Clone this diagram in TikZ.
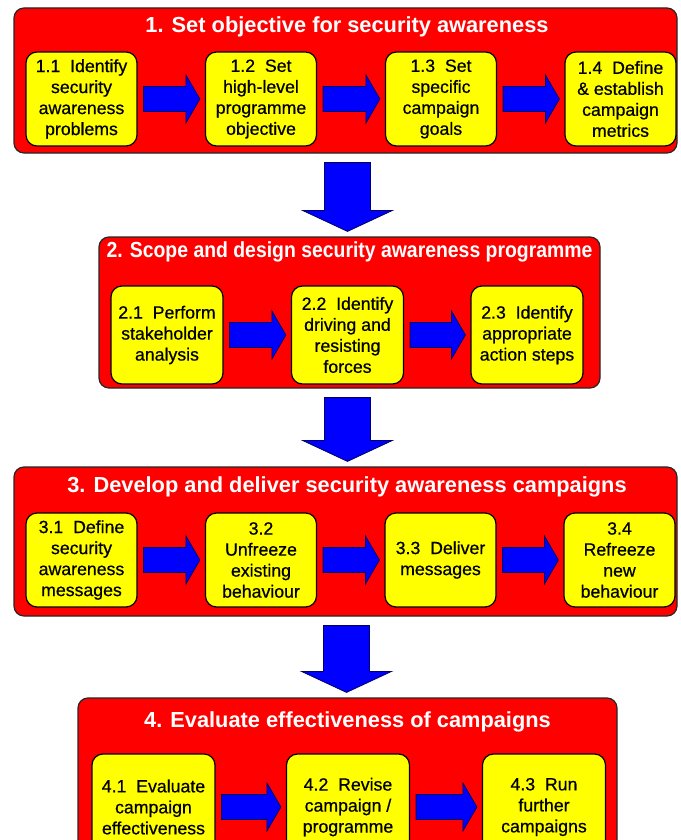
\documentclass[tikz,border=0pt]{standalone}
\usepackage{fontspec}
\setmainfont{Liberation Sans}
\newfontfamily\stepfont[FakeBold=0.6]{Liberation Sans}
\usepackage{xcolor}
\definecolor{stageColor}{HTML}{FF0000}
\definecolor{stepColor}{HTML}{FFFF00}
\definecolor{flowColor}{HTML}{0000FF}
\usepackage{tikz}
\usetikzlibrary{calc, fit}

\tikzset{
  stage/.style={draw=black!85, fill=stageColor, rounded corners=10pt, line width=1.2pt, inner sep=0pt},
  stagetitle/.style={text=white, font=\fontsize{21.8}{26}\selectfont\bfseries},
  stepbox/.style={draw=black, fill=stepColor, rounded corners=11pt, line width=1.2pt,
    align=center, inner sep=0pt, minimum width=111pt, minimum height=94pt,
    font=\stepfont\fontsize{17.7}{21}\selectfont},
  flowarrow/.style={draw=black!60!blue, fill=flowColor, line width=0.8pt, line join=miter}
}

\newcommand{\sideflow}[2]{%
  \draw[flowarrow] ($(#1.east)+(6,-12.5)$) -- ($(#2.west)+(-19,-12.5)$)
    -- ($(#2.west)+(-19,-24)$) -- ($(#2.west)+(-5,0)$) -- ($(#2.west)+(-19,24)$)
    -- ($(#2.west)+(-19,12.5)$) -- ($(#1.east)+(6,12.5)$) -- cycle;}

\newcommand{\stageflow}[2]{%
  \coordinate (#1mid) at ($(#1.south)!0.5!(#2.north)$);
  \draw[flowarrow] ($(#1mid |- #1.south)+(-23,9)$) -- ($(#1mid |- #2.north)+(-23,-26)$)
    -- ($(#1mid |- #2.north)+(-45,-26)$) -- ($(#1mid |- #2.north)+(0,-5)$)
    -- ($(#1mid |- #2.north)+(45,-26)$) -- ($(#1mid |- #2.north)+(23,-26)$)
    -- ($(#1mid |- #1.south)+(23,9)$) -- cycle;}

\begin{document}
\begin{tikzpicture}[x=1pt, y=-1pt]
  \clip (0,0) rectangle (680,840);

  % stages
  \node[stage, fit={(14,8) (677,153)}] (s1) {};
  \node[stage, fit={(99,237) (600,388)}] (s2) {};
  \node[stage, fit={(14,467) (677,616)}] (s3) {};
  \node[stage, fit={(78,698) (617,875)}] (s4) {};

  \node[stagetitle] (t1) at (347,27) {1. Set objective for security awareness};
  \node[stagetitle] (t2) at (349.5,252) {\scalebox{0.89}[1]{2. Scope and design security awareness programme}};
  \node[stagetitle] (t3) at (347,487) {3. Develop and deliver security awareness campaigns};
  \node[stagetitle] (t4) at (347.5,722) {4. Evaluate effectiveness of campaigns};

  % steps
  \foreach \n/\cx/\descr in {1/81.5/{1.1~ Identify\\security\\awareness\\problems},
    2/261/{1.2~ Set\\high-level\\programme\\objective},
    3/441/{1.3~ Set\\specific\\campaign\\goals},
    4/620.5/{1.4~ Define\\\& establish\\campaign\\metrics}}
  \node[stepbox] (b1\n) at (\cx,99) {\descr};

  \foreach \n/\cx/\descr in {1/167/{2.1~ Perform\\stakeholder\\analysis},
    2/347.5/{2.2~ Identify\\driving and\\resisting\\forces},
    3/527/{2.3~ Identify\\appropriate\\action steps}}
  \node[stepbox, minimum width=112pt, minimum height=98pt] (b2\n) at (\cx,335) {\descr};

  \foreach \n/\cx/\descr in {1/81.5/{3.1~ Define\\security\\awareness\\messages},
    2/261/{3.2\\Unfreeze\\existing\\behaviour},
    3/440.5/{3.3~ Deliver\\messages},
    4/619.5/{3.4\\Refreeze\\new\\behaviour}}
  \node[stepbox] (b3\n) at (\cx,560) {\descr};

  \foreach \n/\cx/\descr in {1/153.5/{4.1~ Evaluate\\campaign\\effectiveness},
    2/348/{4.2~ Revise\\campaign /\\programme},
    3/544/{4.3~ Run\\further\\campaigns}}
  \node[stepbox, minimum width=123pt, minimum height=106pt] (b4\n) at (\cx,807) {\descr};

  % flows
  \foreach \a/\b in {b11/b12, b12/b13, b13/b14, b21/b22, b22/b23,
    b31/b32, b32/b33, b33/b34, b41/b42, b42/b43}
  \sideflow{\a}{\b};

  \foreach \a/\b in {s1/s2, s2/s3, s3/s4}
  \stageflow{\a}{\b};
\end{tikzpicture}
\end{document}
